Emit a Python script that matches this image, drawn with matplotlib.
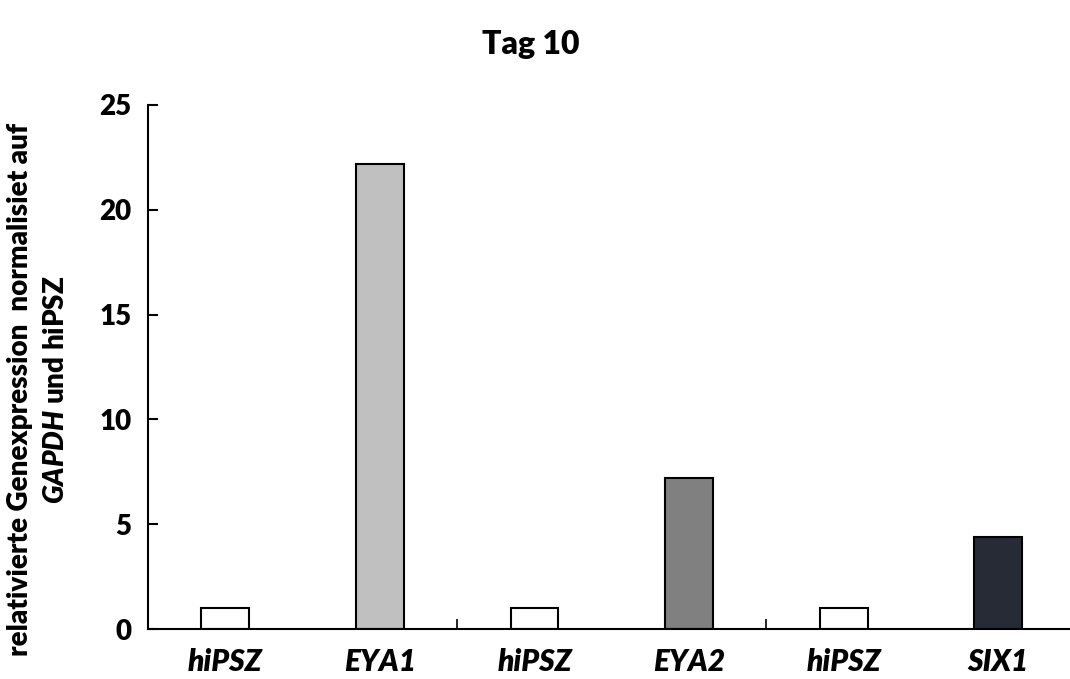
import matplotlib
matplotlib.use("Agg")
import matplotlib.pyplot as plt

plt.rcParams['font.family'] = ['Lato', 'DejaVu Sans']
plt.rcParams['font.weight'] = 'heavy'
plt.rcParams['mathtext.fontset'] = 'custom'
plt.rcParams['mathtext.it'] = 'Lato:italic:heavy'
plt.rcParams['mathtext.rm'] = 'Lato:heavy'

# data
labels = ["hiPSZ", "EYA1", "hiPSZ", "EYA2", "hiPSZ", "SIX1"]
values = [1.0, 22.2, 1.0, 7.2, 1.0, 4.4]
colors = ["white", "#c0c0c0", "white", "#808080", "white", "#262b36"]
yticks = [0, 5, 10, 15, 20, 25]

fig = plt.figure(figsize=(10.7, 6.79), dpi=100)
ax = fig.add_axes([0.1383, 0.0736, 0.867, 0.7718])

x = list(range(len(labels)))
ax.bar(x, values, width=0.31, color=colors, edgecolor="black", linewidth=1.5)

ax.set_xlim(-0.5, 5.5)
ax.set_ylim(0, 25)
ax.set_yticks(yticks)
ax.set_yticklabels([str(v) for v in yticks], fontsize=20, fontweight='heavy')
ax.tick_params(axis='y', direction='in', length=7, width=1.5, pad=12)

ax.set_xticks(x)
ax.set_xticklabels(labels, fontsize=21.5, fontweight='heavy', fontstyle='italic')
ax.tick_params(axis='x', which='major', length=0, pad=14)
ax.set_xticks([1.5, 3.5, 5.5], minor=True)
ax.tick_params(axis='x', which='minor', direction='in', length=7, width=1.2)

for s in ['top', 'right']:
    ax.spines[s].set_visible(False)
for s in ['left', 'bottom']:
    ax.spines[s].set_linewidth(1.5)

fig.text(0.496, 0.934, "Tag 10", ha='center', va='center', fontsize=23, fontweight='heavy')
fig.text(0.019, 0.426, "relativierte Genexpression  normalisiet auf", rotation=90,
         ha='center', va='center', fontsize=20, fontweight='heavy')
fig.text(0.052, 0.426, r"$\mathit{GAPDH}$ und hiPSZ", rotation=90,
         ha='center', va='center', fontsize=20, fontweight='heavy')

fig.savefig("out.png", dpi=100)
